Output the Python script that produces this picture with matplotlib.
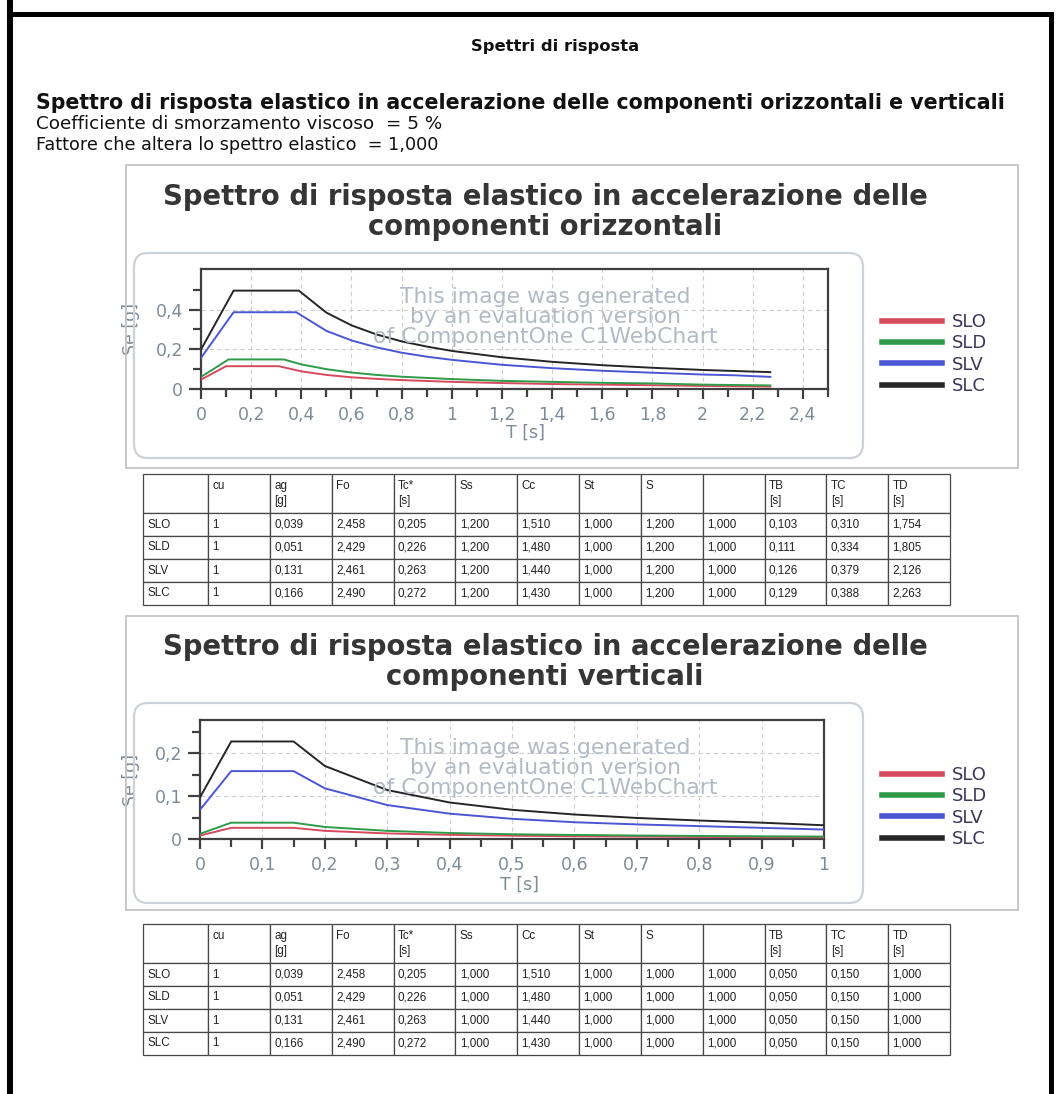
import numpy as np
import matplotlib
matplotlib.use('Agg')
import matplotlib.pyplot as plt
from matplotlib.patches import Rectangle, FancyBboxPatch

W, H = 1056, 1094

# ---------------- data ----------------
states = ['SLO', 'SLD', 'SLV', 'SLC']
colors = ['#d64a5e', '#2f9a4a', '#4b56d4', '#262626']

# horizontal spectra, Se [g] vs T [s]
t_h_slo = [0, 0.10, 0.31, 0.4, 0.5, 0.6, 0.7, 0.8, 1.0, 1.2, 1.4, 1.6, 1.8, 2.0, 2.27]
se_h_slo = [0.047, 0.115, 0.115, 0.089, 0.071, 0.059, 0.051, 0.045, 0.036, 0.030, 0.025, 0.022, 0.019, 0.0155, 0.012]
t_h_sld = [0, 0.11, 0.33, 0.4, 0.5, 0.6, 0.7, 0.8, 1.0, 1.2, 1.4, 1.6, 1.8, 2.0, 2.27]
se_h_sld = [0.061, 0.149, 0.149, 0.124, 0.100, 0.083, 0.071, 0.062, 0.050, 0.041, 0.036, 0.031, 0.028, 0.022, 0.018]
t_h_slv = [0, 0.13, 0.38, 0.5, 0.6, 0.7, 0.8, 0.9, 1.0, 1.2, 1.4, 1.6, 1.8, 2.0, 2.13, 2.27]
se_h_slv = [0.157, 0.387, 0.387, 0.293, 0.245, 0.210, 0.183, 0.163, 0.147, 0.122, 0.105, 0.092, 0.082, 0.073, 0.069, 0.061]
t_h_slc = [0, 0.13, 0.39, 0.5, 0.6, 0.7, 0.8, 0.9, 1.0, 1.2, 1.4, 1.6, 1.8, 2.0, 2.27]
se_h_slc = [0.199, 0.496, 0.496, 0.385, 0.321, 0.275, 0.240, 0.214, 0.192, 0.160, 0.137, 0.120, 0.107, 0.096, 0.085]

# vertical spectra
t_v = [0, 0.05, 0.15, 0.2, 0.3, 0.4, 0.5, 0.6, 0.7, 0.8, 0.9, 1.0]
se_v_slo = [0.008, 0.026, 0.026, 0.019, 0.013, 0.0096, 0.0077, 0.0064, 0.0055, 0.0048, 0.0043, 0.0038]
se_v_sld = [0.012, 0.038, 0.038, 0.028, 0.019, 0.014, 0.011, 0.0094, 0.0081, 0.0071, 0.0063, 0.0057]
se_v_slv = [0.068, 0.158, 0.158, 0.118, 0.079, 0.059, 0.047, 0.039, 0.034, 0.030, 0.026, 0.022]
se_v_slc = [0.097, 0.227, 0.227, 0.170, 0.114, 0.085, 0.068, 0.057, 0.049, 0.043, 0.038, 0.032]

h_xticks = [0, 0.2, 0.4, 0.6, 0.8, 1.0, 1.2, 1.4, 1.6, 1.8, 2.0, 2.2, 2.4]
h_xticklabels = ['0', '0,2', '0,4', '0,6', '0,8', '1', '1,2', '1,4', '1,6', '1,8', '2', '2,2', '2,4']
h_yticks = [0, 0.2, 0.4]
h_yticklabels = ['0', '0,2', '0,4']
v_xticks = [0, 0.1, 0.2, 0.3, 0.4, 0.5, 0.6, 0.7, 0.8, 0.9, 1.0]
v_xticklabels = ['0', '0,1', '0,2', '0,3', '0,4', '0,5', '0,6', '0,7', '0,8', '0,9', '1']
v_yticks = [0, 0.1, 0.2]
v_yticklabels = ['0', '0,1', '0,2']

# tables
tab_header = ['', 'cu', 'ag\n[g]', 'Fo', 'Tc*\n[s]', 'Ss', 'Cc', 'St', 'S', '', 'TB\n[s]', 'TC\n[s]', 'TD\n[s]']
cu = ['1', '1', '1', '1']
ag = ['0,039', '0,051', '0,131', '0,166']
fo = ['2,458', '2,429', '2,461', '2,490']
tc_star = ['0,205', '0,226', '0,263', '0,272']
cc = ['1,510', '1,480', '1,440', '1,430']
st = ['1,000', '1,000', '1,000', '1,000']
eta = ['1,000', '1,000', '1,000', '1,000']
ss_h = ['1,200', '1,200', '1,200', '1,200']
s_h = ['1,200', '1,200', '1,200', '1,200']
tb_h = ['0,103', '0,111', '0,126', '0,129']
tc_h = ['0,310', '0,334', '0,379', '0,388']
td_h = ['1,754', '1,805', '2,126', '2,263']
ss_v = ['1,000', '1,000', '1,000', '1,000']
s_v = ['1,000', '1,000', '1,000', '1,000']
tb_v = ['0,050', '0,050', '0,050', '0,050']
tc_v = ['0,150', '0,150', '0,150', '0,150']
td_v = ['1,000', '1,000', '1,000', '1,000']


def fx(px):
    return px / W


def fy(py):
    return 1 - py / H


fig = plt.figure(figsize=(W / 100, H / 100), dpi=100)
fig.patch.set_facecolor('white')
renderer = fig.canvas.get_renderer()


def fit(t, width_px):
    # scale the font so the text spans the same width as on the scan
    for _ in range(3):
        w = t.get_window_extent(renderer).width
        t.set_fontsize(t.get_fontsize() * width_px / w)


# page frame (thick black border of the scan)
fig.add_artist(Rectangle((fx(7), fy(1094)), fx(6), 1, transform=fig.transFigure,
                         facecolor='black', edgecolor='none'))
fig.add_artist(Rectangle((fx(7), fy(17)), fx(1047), 5 / H, transform=fig.transFigure,
                         facecolor='black', edgecolor='none'))
fig.add_artist(Rectangle((fx(1049), fy(1094)), fx(5), 1 - 12 / H, transform=fig.transFigure,
                         facecolor='black', edgecolor='none'))

# page text
t = fig.text(fx(555), fy(46), 'Spettri di risposta', ha='center', va='center',
             fontweight='bold', fontsize=10, family='DejaVu Sans', color='#111111')
fit(t, 168)
t = fig.text(fx(36), fy(103), 'Spettro di risposta elastico in accelerazione delle componenti orizzontali e verticali',
             ha='left', va='center', fontweight='bold', fontsize=10, family='DejaVu Sans', color='#111111')
fit(t, 970)
t = fig.text(fx(36), fy(124), 'Coefficiente di smorzamento viscoso  = 5 %', ha='left', va='center',
             fontsize=10, family='DejaVu Sans', color='#111111')
fit(t, 405)
t = fig.text(fx(36), fy(145), 'Fattore che altera lo spettro elastico  = 1,000', ha='left', va='center',
             fontsize=10, family='DejaVu Sans', color='#111111')
fit(t, 402)


def draw_chart(box, inner, axpos, title_y, title, xs, ys, xlim, ylim,
               xticks, xticklabels, xminor, yticks, yticklabels, yminor,
               xlabel_pos, wm_y, leg_y):
    l, top, r, bot = box
    fig.add_artist(Rectangle((fx(l), fy(bot)), (r - l) / W, (bot - top) / H, transform=fig.transFigure,
                             facecolor='none', edgecolor='#c4c4c4', lw=1.3))
    l, top, r, bot = inner
    fig.add_artist(FancyBboxPatch((fx(l), fy(bot)), (r - l) / W, (bot - top) / H,
                                  boxstyle='round,pad=0,rounding_size=0.013', transform=fig.transFigure,
                                  facecolor='none', edgecolor='#cdd2d8', lw=1.6))
    t1 = fig.text(fx(545), fy(title_y[0]), title[0], ha='center', va='center', fontweight='bold',
                  fontsize=16, family='DejaVu Sans', color='#353535')
    fit(t1, 766)
    fig.text(fx(545), fy(title_y[1]), title[1], ha='center', va='center', fontweight='bold',
             fontsize=t1.get_fontsize(), family='DejaVu Sans', color='#353535')

    l, top, r, bot = axpos
    ax = fig.add_axes([fx(l), fy(bot), (r - l) / W, (bot - top) / H])
    for name, c, x, y in zip(states, colors, xs, ys):
        ax.plot(x, y, color=c, lw=1.4, label=name, zorder=3)
    ax.set_xlim(*xlim)
    ax.set_ylim(*ylim)
    ax.set_xticks(xticks)
    ax.set_xticklabels(xticklabels)
    ax.set_xticks(xminor, minor=True)
    ax.set_yticks(yticks)
    ax.set_yticklabels(yticklabels)
    ax.set_yticks(yminor, minor=True)
    ax.grid(True, which='major', ls=(0, (4, 3)), color='#cfcfcf', lw=0.8)
    for sp in ax.spines.values():
        sp.set_color('#404040')
        sp.set_linewidth(1.6)
    ax.tick_params(axis='both', which='both', direction='out', color='#404040', width=1.6,
                   labelcolor='#7f8b97', labelsize=12.5)
    ax.tick_params(axis='x', which='major', length=7, pad=5)
    ax.tick_params(axis='x', which='minor', length=6)
    ax.tick_params(axis='y', which='major', length=9, pad=4)
    ax.tick_params(axis='y', which='minor', length=6)
    ax.set_xlabel('T [s]', color='#7f8b97', fontsize=12.5)
    ax.xaxis.set_label_coords((xlabel_pos[0] - l) / (r - l), (bot - xlabel_pos[1]) / (bot - top))
    ax.set_ylabel('Se [g]', color='#7f8b97', fontsize=12.5)
    ax.yaxis.set_label_coords((140 - l) / (r - l), 0.5)

    wm = fig.text(fx(545), fy(wm_y), 'This image was generated\nby an evaluation version\nof ComponentOne C1WebChart',
                  ha='center', va='center', fontsize=16, linespacing=1.0, family='DejaVu Sans',
                  color='#b3bac3', zorder=5)
    fit(wm, 345)

    leg = ax.legend(loc='center left', bbox_to_anchor=(fx(882), fy(leg_y)),
                    bbox_transform=fig.transFigure, frameon=False, fontsize=13,
                    handlelength=3.3, handletextpad=0.55, labelspacing=0.18, borderpad=0,
                    borderaxespad=0)
    for ln in leg.get_lines():
        ln.set_linewidth(4)
    for tx in leg.get_texts():
        tx.set_color('#3b3858')
    return ax


def draw_table(top, cols):
    l, r = 143, 950
    head_h, row_h = 39, 23
    bot = top + head_h + 4 * row_h
    tax = fig.add_axes([fx(l), fy(bot), (r - l) / W, (bot - top) / H])
    tax.axis('off')
    rows = [list(row) for row in zip(*cols)]
    header = [h if '\n' in h or h == '' else h + '\n' for h in tab_header]
    widths = [65] + [61.75] * 12
    tb = tax.table(cellText=[header] + rows, colWidths=[w / sum(widths) for w in widths],
                   cellLoc='left', bbox=[0, 0, 1, 1])
    tb.auto_set_font_size(False)
    for (i, j), cell in tb.get_celld().items():
        cell.set_height((head_h if i == 0 else row_h) / (bot - top))
        cell.set_edgecolor('#474747')
        cell.set_linewidth(0.9)
        cell.PAD = 0.07
        cell.get_text().set_fontsize(8.4)
        cell.get_text().set_family('Liberation Sans')
        cell.get_text().set_color('#222222')
        cell.get_text().set_linespacing(1.3)


draw_chart((126, 165, 1018, 468), (134, 253, 863, 458), (201, 269, 828, 389), (197, 227),
           ('Spettro di risposta elastico in accelerazione delle', 'componenti orizzontali'),
           [t_h_slo, t_h_sld, t_h_slv, t_h_slc], [se_h_slo, se_h_sld, se_h_slv, se_h_slc],
           (0, 2.5), (0, 0.605), h_xticks, h_xticklabels, np.round(np.arange(0.1, 2.55, 0.2), 2),
           h_yticks, h_yticklabels, [0.1, 0.3, 0.5], (526, 424), 317, 354)
draw_table(474, [states, cu, ag, fo, tc_star, ss_h, cc, st, s_h, eta, tb_h, tc_h, td_h])

draw_chart((126, 616, 1018, 910), (134, 703, 863, 903), (200, 720, 824, 839), (647, 677),
           ('Spettro di risposta elastico in accelerazione delle', 'componenti verticali'),
           [t_v, t_v, t_v, t_v], [se_v_slo, se_v_sld, se_v_slv, se_v_slc],
           (0, 1.0), (0, 0.277), v_xticks, v_xticklabels, np.round(np.arange(0.05, 1.0, 0.1), 2),
           v_yticks, v_yticklabels, [0.05, 0.15, 0.25], (520, 876), 768, 807)
draw_table(924, [states, cu, ag, fo, tc_star, ss_v, cc, st, s_v, eta, tb_v, tc_v, td_v])

fig.savefig('out.png', dpi=100, facecolor='white')
